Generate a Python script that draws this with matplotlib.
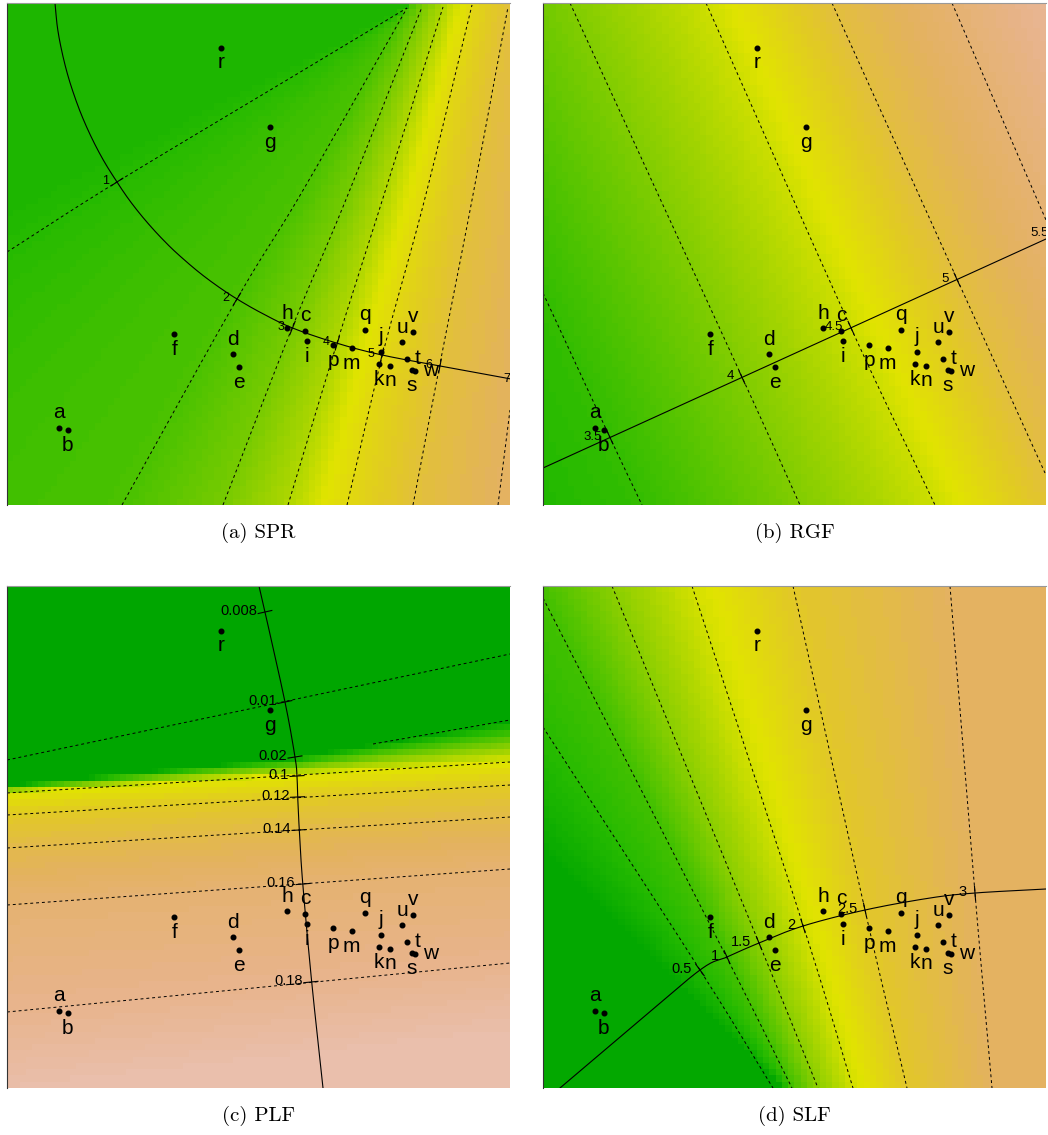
import numpy as np
import matplotlib
matplotlib.use("Agg")
import matplotlib.pyplot as plt
from matplotlib.colors import LinearSegmentedColormap

plt.rcParams['font.family'] = ['Liberation Sans', 'DejaVu Sans']

# every panel is a 503 x 502 pixel biplot window; coordinates below are in those pixels
W, H = 503, 502

# sample points (identical in all four panels)
names = ["a", "b", "c", "d", "e", "f", "g", "h", "i", "j", "k",
         "m", "n", "p", "q", "r", "s", "t", "u", "v", "w"]
px = [52.3, 60.7, 298.3, 226.3, 232.3, 167.3, 263.0, 280.3, 300.0, 373.7, 372.3,
      344.7, 383.0, 326.0, 357.7, 214.0, 404.7, 399.7, 395.3, 405.7, 408.0]
py = [424.7, 427.0, 328.0, 351.3, 364.3, 331.3, 124.3, 325.3, 338.0, 348.7, 361.0,
      345.3, 362.7, 342.3, 327.0, 44.7, 367.0, 356.0, 339.3, 329.0, 367.7]
side = ["up", "down", "up", "up", "down", "down", "down", "up", "down", "up", "down",
        "down", "down", "down", "up", "down", "down", "right", "up", "up", "right"]

# (a) SPR
spr_values = [1, 2, 3, 4, 5, 6, 7]
spr_labels = ["1", "2", "3", "4", "5", "6", "7"]
spr_lines = [
    [(0, 249), (110, 179), (295, 68), (400, 5)],
    [(115, 502), (230, 296), (295, 189), (400, 5)],
    [(216, 502), (285, 325), (340, 194), (415, 4)],
    [(281, 502), (330, 340), (376, 195), (436, 4)],
    [(340, 502), (376, 350), (418, 195), (465, 2)],
    [(406, 502), (432, 366), (465, 197), (501, 4)],
    [(491, 502), (503, 407)],
]
spr_curve = [(48, 0), (50.5, 25), (55.2, 50), (61.6, 75), (69.9, 100), (78.3, 121),
             (88.2, 142), (98.6, 161), (110, 179), (120.8, 195), (132.3, 210), (144.2, 224),
             (156.3, 237), (169.6, 250), (190.4, 268), (210.3, 283), (230, 296),
             (254.5, 310), (285.5, 325), (330.3, 340.3), (375, 352), (433, 363), (515, 378)]
spr_ticks = [(110, 179), (230, 296), (285.5, 325), (330.3, 340.3), (375, 352),
             (433, 363), (511, 377.5)]

# (b) RGF
rgf_values = [3.5, 4, 4.5, 5, 5.5]
rgf_labels = ["3.5", "4", "4.5", "5", "5.5"]
rgf_lines = [
    [(0, 290), (67, 434.5), (99, 502)],
    [(27, 0), (199, 374), (257, 502)],
    [(163, 0), (308, 325), (392, 502)],
    [(289, 0), (414, 276), (502, 470)],
    [(409, 0), (503, 217)],
]
rgf_curve = [(0, 465), (530, 223.7)]
rgf_ticks = [(67, 434.5), (199, 374.4), (308, 324.8), (414, 276.5), (514, 231)]

# (c) PLF
plf_values = [0.01, 0.02, 0.1, 0.12, 0.14, 0.16, 0.18]
plf_labels = ["0.008", "0.01", "0.02", "0.1", "0.12", "0.14", "0.16", "0.18"]
plf_lines = [
    [(0, 174), (503, 68)],
    [(366, 158), (503, 134)],
    [(0, 207), (503, 176)],
    [(0, 229), (503, 199)],
    [(0, 262), (503, 231)],
    [(0, 319), (503, 283)],
    [(0, 426), (503, 377)],
]
plf_shade_002 = [(0, 199), (288, 171), (366, 158), (503, 134)]
plf_curve = [(252, 0), (258, 26), (278, 116), (288, 171), (290, 190), (290.7, 211),
             (292.3, 244), (295.7, 297), (304.7, 396), (316, 502)]
plf_ticks = [(258, 26), (278, 116), (288, 171), (290, 190), (290.5, 211), (292, 244),
             (296, 298), (304, 396)]

# (d) SLF
slf_values = [0.5, 1, 1.5, 2, 2.5, 3]
slf_labels = ["0.5", "1", "1.5", "2", "2.5", "3"]
slf_lines = [
    [(0, 141), (157, 384), (230, 502)],
    [(0, 12), (184, 372), (249, 502)],
    [(69, 0), (216, 357), (275, 502)],
    [(149, 0), (260, 339), (310, 502)],
    [(250, 0), (322, 324), (364, 502)],
    [(407, 0), (432, 307), (449, 502)],
]
slf_shade_05 = [(0, 261), (240, 502)]
slf_curve = [(17, 502), (90, 440), (157, 384), (184, 371), (216, 357), (260, 340),
             (322, 324), (387, 312), (432, 307), (503, 303)]
slf_ticks = [(157, 384), (184, 371), (216, 357), (260, 340), (322, 324), (432, 307)]

# colour stops: contour value -> position on the palette
spr_stops = ([0.7, 1, 2, 3, 4, 4.6, 5, 6, 7, 8], [0.09, 0.11, 0.19, 0.28, 0.40, 0.5, 0.54, 0.63, 0.70, 0.72])
rgf_stops = ([3.2, 3.5, 4, 4.5, 4.6, 5, 5.5, 6], [0.10, 0.14, 0.30, 0.46, 0.5, 0.64, 0.74, 0.84])
plf_stops = ([0.02, 0.1, 0.12, 0.14, 0.16, 0.18, 0.195], [0.0, 0.5, 0.59, 0.66, 0.74, 0.80, 0.87])
slf_stops = ([0.5, 1, 1.5, 2, 2.1, 2.5, 3], [0.02, 0.17, 0.32, 0.47, 0.5, 0.60, 0.70])

# terrain-like palette
pal_pos = [0.0, 0.10, 0.20, 0.30, 0.40, 0.50, 0.60, 0.70, 0.80, 0.87, 1.0]
pal_rgb = [(0, 166, 0), (35, 186, 0), (80, 195, 0), (130, 205, 0), (175, 215, 0),
           (225, 228, 0), (226, 200, 40), (228, 178, 95), (232, 180, 140),
           (234, 190, 170), (242, 242, 242)]
cmap = LinearSegmentedColormap.from_list(
    "terrainish", list(zip(pal_pos, [tuple(c / 255 for c in rgb) for rgb in pal_rgb])), N=96)


def spline(pts, n=24):
    # Catmull-Rom curve through the points
    p = np.asarray(pts, float)
    p = np.vstack([2 * p[0] - p[1], p, 2 * p[-1] - p[-2]])
    t = np.linspace(0, 1, n, endpoint=False)[:, None]
    out = []
    for i in range(1, len(p) - 2):
        p0, p1, p2, p3 = p[i - 1], p[i], p[i + 1], p[i + 2]
        out.append(0.5 * (2 * p1 + (p2 - p0) * t + (2 * p0 - 5 * p1 + 4 * p2 - p3) * t ** 2
                          + (3 * p1 - p0 - 3 * p2 + p3) * t ** 3))
    out.append(p[-2][None])
    return np.vstack(out)


def pos_at(pts, t, along):
    p = np.asarray(pts, float)
    a, b = (p[:, 1], p[:, 0]) if along == "y" else (p[:, 0], p[:, 1])
    o = np.argsort(a)
    a, b = a[o], b[o]
    if t < a[0]:
        return b[0] + (t - a[0]) * (b[1] - b[0]) / (a[1] - a[0])
    if t > a[-1]:
        return b[-1] + (t - a[-1]) * (b[-1] - b[-2]) / (a[-1] - a[-2])
    return np.interp(t, a, b)


def shade(values, lines, along, stops, n=80):
    cx = (np.arange(n) + 0.5) * W / n
    cy = (np.arange(n) + 0.5) * H / n
    outer, inner = (cy, cx) if along == "y" else (cx, cy)
    grid = np.zeros((n, n))
    vals = np.asarray(values, float)
    for i, t in enumerate(outer):
        q = np.array([pos_at(l, t, along) for l in lines])
        for k in range(1, len(q)):
            q[k] = max(q[k], q[k - 1] + 0.5)
        v = np.interp(inner, q, vals)
        lo, hi = inner < q[0], inner > q[-1]
        v[lo] = vals[0] + (inner[lo] - q[0]) * (vals[1] - vals[0]) / (q[1] - q[0])
        v[hi] = vals[-1] + (inner[hi] - q[-1]) * (vals[-1] - vals[-2]) / (q[-1] - q[-2])
        lev = np.interp(v, stops[0], stops[1])
        if along == "y":
            grid[i, :] = lev
        else:
            grid[:, i] = lev
    return grid


def draw(ax, grid, lines, curve, ticks, labels, caption, tick_fs):
    ax.imshow(grid, cmap=cmap, vmin=0, vmax=1, extent=(0, W, H, 0),
              interpolation="nearest", aspect="auto", zorder=0)
    for l in lines:
        p = np.asarray(l, float)
        if len(p) > 2:
            p = spline(p)
        ax.plot(p[:, 0], p[:, 1], color="black", lw=0.7, dashes=(3, 3))
    c = spline(curve)
    ax.plot(c[:, 0], c[:, 1], color="black", lw=0.8)
    for (tx, ty), lab in zip(ticks, labels):
        i = np.argmin(np.hypot(c[:, 0] - tx, c[:, 1] - ty))
        d = c[min(i + 1, len(c) - 1)] - c[max(i - 1, 0)]
        d = d / np.hypot(*d)
        nx, ny = -d[1], d[0]
        ax.plot([tx - 7 * nx, tx + 7 * nx], [ty - 7 * ny, ty + 7 * ny], color="black", lw=0.8)
        ax.text(tx - 8, ty - 1, lab, ha="right", va="center", fontsize=tick_fs, clip_on=True)
    ax.scatter(px, py, s=11, c="black", zorder=5)
    for nm, x, y, sd in zip(names, px, py, side):
        if sd == "up":
            off, ha = (0, 11), "center"
        elif sd == "down":
            off, ha = (0, -11), "center"
        else:
            off, ha = (6, 0), "left"
        ax.annotate(nm, (x, y), xytext=off, textcoords="offset points",
                    ha=ha, va="center", fontsize=15, zorder=6)
    ax.set_xlim(0, W)
    ax.set_ylim(H, 0)
    ax.set_xticks([])
    ax.set_yticks([])
    for s in ["right", "bottom"]:
        ax.spines[s].set_visible(False)
    ax.spines["left"].set_color("#333333")
    ax.spines["top"].set_color("#999999")
    ax.spines["left"].set_linewidth(0.8)
    ax.spines["top"].set_linewidth(0.8)
    ax.set_xlabel(caption, fontsize=15, family="cmr10", labelpad=13)


fig = plt.figure(figsize=(10.48, 11.35), dpi=100)
fw, fh = 1048, 1135
boxes = [(7, 3), (543, 3), (7, 586), (543, 586)]
axes = [fig.add_axes([x0 / fw, 1 - (y0 + H) / fh, W / fw, H / fh]) for x0, y0 in boxes]

draw(axes[0], shade(spr_values, spr_lines, "y", spr_stops), spr_lines, spr_curve,
     spr_ticks, spr_labels, "(a) SPR", 9)
draw(axes[1], shade(rgf_values, rgf_lines, "y", rgf_stops), rgf_lines, rgf_curve,
     rgf_ticks, rgf_labels, "(b) RGF", 9.5)
plf_shade = [plf_lines[0], plf_shade_002] + plf_lines[2:]
draw(axes[2], shade(plf_values, plf_shade, "x", plf_stops), plf_lines, plf_curve,
     plf_ticks, plf_labels, "(c) PLF", 10.5)
slf_shade = [slf_shade_05] + slf_lines[1:]
draw(axes[3], shade(slf_values, slf_shade, "y", slf_stops), slf_lines, slf_curve,
     slf_ticks, slf_labels, "(d) SLF", 10.5)

fig.savefig("out.png", dpi=100)
